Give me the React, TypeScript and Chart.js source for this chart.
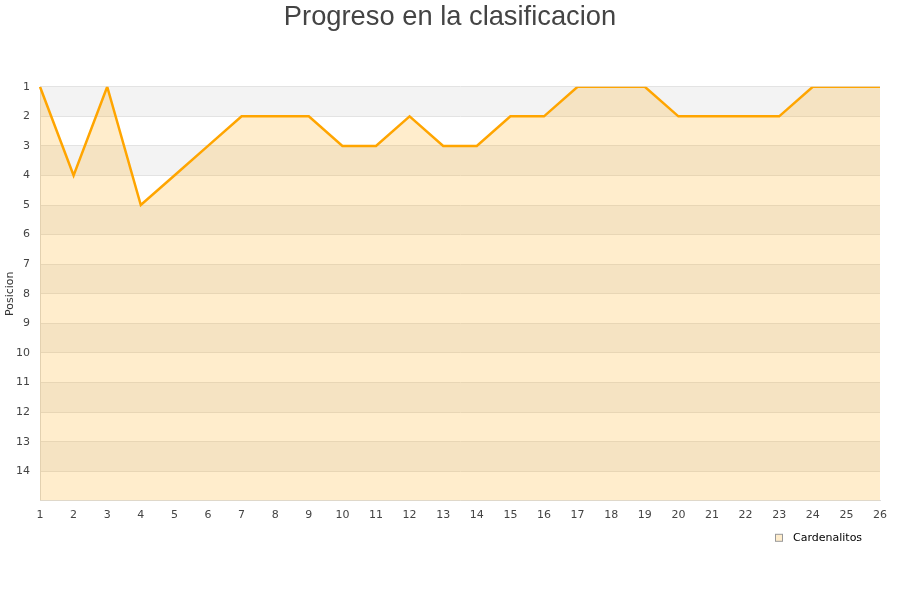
import React, { useEffect, useRef } from "react";
import { Chart, registerables } from "chart.js";

Chart.register(...registerables);

const jornadas: string[] = [
  "1", "2", "3", "4", "5", "6", "7", "8", "9", "10", "11", "12", "13",
  "14", "15", "16", "17", "18", "19", "20", "21", "22", "23", "24", "25", "26",
];
const posiciones: number[] = [
  1, 4, 1, 5, 4, 3, 2, 2, 2, 3, 3, 2, 3, 3, 2, 2, 1, 1, 1, 2, 2, 2, 2, 1, 1, 1,
];
const serieNombre = "Cardenalitos";
const titulo = "Progreso en la clasificacion";
const ejeY = "Posicion";
const posMin = 1;
const posMax = 15;

const bandsPlugin = {
  id: "bands",
  afterLayout(chart: any) {
    if (chart.titleBlock) {
      chart.titleBlock.left = 0;
      chart.titleBlock.right = chart.width;
    }
  },
  beforeDraw(chart: any) {
    const { ctx, chartArea, scales } = chart;
    const y = scales.y;
    ctx.save();
    ctx.fillStyle = "#f3f3f3";
    for (let v = posMin; v < posMax; v += 2) {
      const p1 = y.getPixelForValue(v);
      const p2 = y.getPixelForValue(v + 1);
      ctx.fillRect(chartArea.left, Math.min(p1, p2), chartArea.right - chartArea.left, Math.abs(p2 - p1));
    }
    ctx.restore();
  },
};

const legendPlugin = {
  id: "customLegend",
  afterDraw(chart: any) {
    const { ctx, chartArea } = chart;
    const ds = chart.data.datasets[0];
    const bx = chartArea.right - 104.5;
    const by = chartArea.bottom + 33.5;
    ctx.save();
    ctx.fillStyle = "#ffedcc";
    ctx.strokeStyle = "#999";
    ctx.lineWidth = 1;
    ctx.fillRect(bx, by, 7, 7);
    ctx.strokeRect(bx, by, 7, 7);
    ctx.fillStyle = "#000";
    ctx.font = "11px 'DejaVu Sans'";
    ctx.textBaseline = "middle";
    ctx.textAlign = "left";
    ctx.fillText(ds.label, chartArea.right - 87, chartArea.bottom + 37.5);
    ctx.restore();
  },
};

export default function App() {
  const ref = useRef<HTMLCanvasElement | null>(null);
  useEffect(() => {
    if (!ref.current) return;
    const chart = new Chart(ref.current, {
      type: "line",
      data: {
        labels: jornadas,
        datasets: [
          {
            label: serieNombre,
            data: posiciones,
            borderColor: "#ffa500",
            backgroundColor: "rgba(255,165,0,0.2)",
            borderWidth: 2.5,
            pointRadius: 0,
            tension: 0,
            fill: "start",
          },
        ],
      },
      options: {
        animation: false,
        responsive: false,
        maintainAspectRatio: false,
        layout: { padding: { left: 0, right: 20, top: 0, bottom: 70 } },
        plugins: {
          title: {
            display: true,
            text: titulo,
            color: "#444",
            font: { family: "Liberation Sans", size: 27.3, weight: "normal" },
            padding: { top: 1, bottom: 53 },
          },
          legend: { display: false },
          tooltip: { enabled: false },
        },
        scales: {
          x: {
            offset: false,
            grid: { display: false, drawTicks: false },
            border: { display: true, color: "#dddddd" },
            ticks: {
              color: "#444",
              font: { family: "DejaVu Sans", size: 11 },
              padding: 8,
              maxRotation: 0,
              autoSkip: false,
            },
          },
          y: {
            reverse: true,
            min: posMin,
            max: posMax,
            afterFit: (s: any) => {
              s.width = 40;
            },
            grid: { color: "#e3e3e3", drawTicks: false },
            border: { display: true, color: "#dddddd" },
            title: {
              display: true,
              text: ejeY,
              color: "#333",
              font: { family: "DejaVu Sans", size: 11 },
              padding: { top: 4, bottom: 0 },
            },
            ticks: {
              stepSize: 1,
              color: "#444",
              font: { family: "DejaVu Sans", size: 11 },
              padding: 10,
              callback: (v: any) => (v === posMax ? "" : String(v)),
            },
          },
        },
      },
      plugins: [bandsPlugin, legendPlugin],
    });
    return () => chart.destroy();
  }, []);
  return (
    <div style={{ position: "fixed", left: 0, top: 0, width: 900, height: 600, background: "#fff" }}>
      <canvas ref={ref} width={900} height={600} style={{ width: 900, height: 600 }} />
    </div>
  );
}
